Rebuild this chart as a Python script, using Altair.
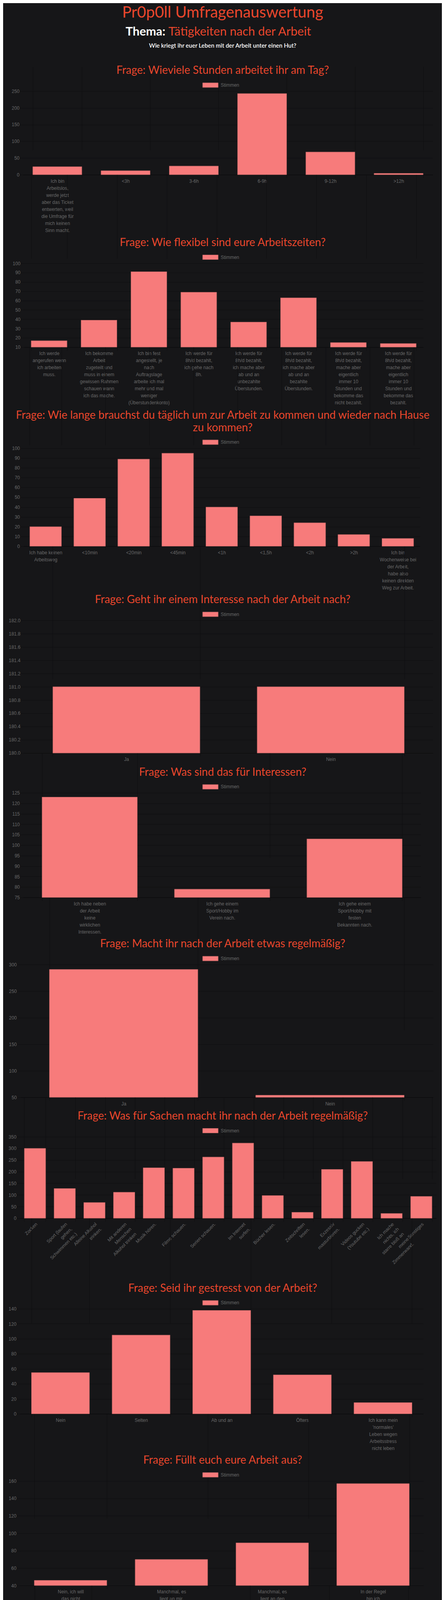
import altair as alt
import pandas as pd

# ---------------- texts ----------------
header_title = "Pr0p0ll Umfragenauswertung"
header_topic_key = "Thema:"
header_topic = "Tätigkeiten nach der Arbeit"
header_sub = "Wie kriegt ihr euer Leben mit der Arbeit unter einen Hut?"
series_name = "Stimmen"

titles = [
    "Frage: Wieviele Stunden arbeitet ihr am Tag?",
    "Frage: Wie flexibel sind eure Arbeitszeiten?",
    ["Frage: Wie lange brauchst du täglich um zur Arbeit zu kommen und wieder nach Hause", "zu kommen?"],
    "Frage: Geht ihr einem Interesse nach der Arbeit nach?",
    "Frage: Was sind das für Interessen?",
    "Frage: Macht ihr nach der Arbeit etwas regelmäßig?",
    "Frage: Was für Sachen macht ihr nach der Arbeit regelmäßig?",
    "Frage: Seid ihr gestresst von der Arbeit?",
    "Frage: Füllt euch eure Arbeit aus?",
    "Frage: Wie regelt ihr das mit Terminen unter der Woche?",
    "Frage: Leidet dein soziales Umfeld daran dass du arbeitest?",
    "Frage: Leidet dein Beziehungsleben unter der Arbeit?",
    "Frage: Wie hat dir diese Umfrage gefallen.",
]

# ---------------- categories (line breaks as in the picture) ----------------
cats_q1 = [
    "Ich bin\nArbeitslos,\nwerde jetzt\naber das Ticket\nentwerten, weil\ndie Umfrage für\nmich keinen\nSinn macht.",
    "<3h", "3-6h", "6-9h", "9-12h", ">12h",
]
cats_q2 = [
    "Ich werde\nangerufen wenn\nich arbeiten\nmuss.",
    "Ich bekomme\nArbeit\nzugeteilt und\nmuss in einem\ngewissen Rahmen\nschauen wann\nich das mache.",
    "Ich bin fest\nangestellt, je\nnach\nAuftragslage\narbeite ich mal\nmehr und mal\nweniger\n(Überstundenkonto)",
    "Ich werde für\n8h/d bezahlt,\nich gehe nach\n8h.",
    "Ich werde für\n8h/d bezahlt,\nich mache aber\nab und an\nunbezahlte\nÜberstunden.",
    "Ich werde für\n8h/d bezahlt,\nich mache aber\nab und an\nbezahlte\nÜberstunden.",
    "Ich werde für\n8h/d bezahlt,\nmache aber\neigentlich\nimmer 10\nStunden und\nbekomme das\nnicht bezahlt.",
    "Ich werde für\n8h/d bezahlt,\nmache aber\neigentlich\nimmer 10\nStunden und\nbekomme das\nbezahlt.",
]
cats_q3 = [
    "Ich habe keinen\nArbeitsweg", "<10min", "<20min", "<45min", "<1h", "<1,5h", "<2h", ">2h",
    "Ich bin\nWochenweise bei\nder Arbeit,\nhabe also\nkeinen direkten\nWeg zur Arbeit.",
]
cats_q4 = ["Ja", "Nein"]
cats_q5 = [
    "Ich habe neben\nder Arbeit\nkeine\nwirklichen\nInteressen.",
    "Ich gehe einem\nSport/Hobby im\nVerein nach.",
    "Ich gehe einem\nSport/Hobby mit\nfesten\nBekannten nach.",
]
cats_q6 = ["Ja", "Nein"]
cats_q7 = [
    "Zocken",
    "Sport (laufen\ngehen,\nSchwimmen etc.)",
    "Alleine Alkohol\ntrinken.",
    "Mit anderen\nMenschen\nAlkohol trinken",
    "Musik hören.",
    "Filme schauen.",
    "Serien schauen.",
    "Im Internet\nsurfen.",
    "Bücher lesen.",
    "Zeitschriften\nlesen.",
    "Exzessiv\nmasturbieren.",
    "Videos gucken\n(Youtube etc.)",
    "Ich mache\nnichts, ich\nstarre bloß an\nmeine\nZimmerwand.",
    "Sonstiges",
]
cats_q8 = ["Nein", "Selten", "Ab und an", "Öfters",
           "Ich kann mein\n'normales'\nLeben wegen\nArbeitsstress\nnicht leben"]
cats_q9 = [
    "Nein, ich will\ndas nicht\nmachen.",
    "Manchmal, es\nliegt an mir.",
    "Manchmal, es\nliegt an den\nanderen Leuten\ndie da rum\nlaufen.",
    "In der Regel\nbin ich\nzufrieden mit\nmeiner Arbeit.",
]
cats_q10 = [
    "Ich muss mir\nFrei nehmen,\nbekomme das\naber problemlos\nhin.",
    "Ich muss mir\nFrei nehmen,\nmuss aber\nhoffen dass ich\nauch Frei\nbekomme.",
    "Ich mache meine\nArbeit einfach\nspäter, da sagt\nkeiner was.",
    "Ich kann von\nder Arbeit aus\nhinfahren, muss\nes aber als\nPause\naufschreiben",
    "Ich kann von\nder Arbeit aus\nhinfahren, aber\nes stört keinen\nund ich bekomme\nes bezahlt.",
]
cats_q11 = [
    "Ja, mein\nFreundeskreis\nhat sich\nverkleinert,\naber das ist\nnicht weiter\nschlimm.",
    "Ja, mein\nFreundeskreis\nhat sich\nverkleinert,\nund ich\nvermisse meine\nalten Leute.",
    "Nein, Alles ist\nbeim alten\ngeblieben.",
    "Sonstiges",
    "Nein, durch die\nArbeit habe ich\nviele neue\nLeute\nkennengelernt\nund ich finde\ndas gut.",
    "Nicht wirklich,\naber ich habe\nzu meinem\nbedauern meinen\nFreundeskreis\n'ausgetauscht',\naber ich weine\nden alten\nFreundschaften\nab und an\nhinterher.",
    "Nicht wirklich,\naber ich habe\nzu meiner\nFreude meinen\nFreundeskreis\n'ausgetauscht',\nund ich weine\nden alten\nFreundschaften\nnicht\nhinterher.",
]
cats_q12 = [
    "Meine Beziehung\nleidet unter\nmeiner Arbeit\nund ich\nwünschte es\nwäre nicht so.",
    "Meine Beziehung\nleidet unter\nmeiner Arbeit,\naber ich bin ab\nund an auch mal\nFroh die Alte\nnicht zu sehen,\nArbeit ist für\nmich in der\nHinsicht ein\nFreiraum.",
    "Meine Beziehung\nleidet nicht\nunter meiner\nArbeit, weil\nsie froh ist\ndass ich nicht\nimmer zu gegen\nbin.",
    "Meine Beziehung\nleidet nicht\nunter meiner\nArbeit, weil\nmein Partner\nähnlich viel\narbeitet wie\nich und wir so\ngut miteinander\nauskommen.",
    "Sonstiges",
]
cats_q13 = [
    "Sehr gut",
    "ganz schön gut",
    "Ich hätte keine\nbesseren Fragen\nstellen können.",
    "ziemlich gut\ndurchdacht",
    "Eigentlich\nziemlich gut",
    "Ist schon\noberes\nMittelfeld",
    "ziemlich\nprofessionell,\nda steckt ein\nguter Geist\nhinter",
    "Die Fragen\nhaben mich\nberührt",
    "relativ gut",
    "da kann man\nschonmal\napplaudieren",
    "Ich fand sie\ngut, keine\nZeitverschwendung\nmMn.",
]

# ---------------- vote counts ----------------
votes_q1 = [24, 12, 26, 243, 68, 4]
votes_q2 = [17, 39, 91, 69, 37, 63, 15, 14]
votes_q3 = [20, 49, 89, 95, 40, 31, 24, 12, 8]
votes_q4 = [181, 181]
votes_q5 = [123, 79, 103]
votes_q6 = [291, 54]
votes_q7 = [300, 128, 68, 112, 217, 215, 263, 323, 98, 26, 210, 244, 21, 94]
votes_q8 = [55, 105, 138, 52, 15]
votes_q9 = [46, 70, 89, 157]
votes_q10 = [126, 55, 69, 41, 42]
votes_q11 = [66, 45, 126, 24, 62, 9, 16]
votes_q12 = [27, 17, 15, 73, 129]
votes_q13 = [9, 19, 9, 11, 45, 23, 12, 20, 37, 54, 41]

labels = [cats_q1, cats_q2, cats_q3, cats_q4, cats_q5, cats_q6, cats_q7,
          cats_q8, cats_q9, cats_q10, cats_q11, cats_q12, cats_q13]
values = [votes_q1, votes_q2, votes_q3, votes_q4, votes_q5, votes_q6, votes_q7,
          votes_q8, votes_q9, votes_q10, votes_q11, votes_q12, votes_q13]

# y axis ranges and tick steps (as printed on the axes)
y_domains = [(0, 250), (10, 100), (0, 100), (180, 182), (75, 125), (50, 300), (0, 350),
             (0, 140), (40, 160), (40, 130), (0, 140), (0, 140), (5, 55)]
y_steps = [50, 10, 10, 0.2, 5, 50, 50, 20, 20, 10, 20, 20, 5]
y_formats = ["d", "d", "d", ".1f", "d", "d", "d", "d", "d", "d", "d", "d", "d"]

# ---------------- layout (page pixels) ----------------
MARGIN = 8
HEADER_H = 160
plot_left = [58.5, 61, 59.5, 61, 59.25, 51.5, 50.6, 50.6, 50.7, 60, 55.5, 63.75, 57.35]
plot_width = [1050, 1023, 1016, 1048, 1018.5, 1058, 1066.8, 1033.75, 1034, 1014.5, 1024.6, 1032.5, 1059.2]
plot_top = [231, 672, 1146, 1587, 2029, 2469, 2910, 3351, 3792, 4233, 4674, 5115, 5556]
plot_bottom = [445, 887, 1397, 1927, 2297, 2809, 3119, 3620, 4060, 4484, 4842, 5283, 5774]
label_angles = [0, 0, 0, 0, 0, 0, 315, 0, 0, 0, 0, 0, 330]
PAGE_CENTER = 570

# ---------------- styles ----------------
BG = "#161618"
RED = "#e9462c"
BAR = "#f77b7b"
EDGE = "#a05656"
GRID = "#0f0f11"
AXIS_LINE = "#0b0b0c"
LABEL = "#686868"
TITLE_FONT = "Lato"
AXIS_FONT = "Liberation Sans"


def make_panel(i, prev_bottom):
    cats = labels[i]
    df = pd.DataFrame({
        "Antwort": cats,
        "Stimmen": values[i],
        "Serie": [series_name] * len(cats),
    })
    top_pad = plot_top[i] - prev_bottom
    plot_h = plot_bottom[i] - plot_top[i]
    left = plot_left[i] - MARGIN
    w = plot_width[i]
    lo, hi = y_domains[i]
    step = y_steps[i]
    n = int(round((hi - lo) / step))
    ticks = [round(lo + k * step, 2) for k in range(n + 1)]
    angle = label_angles[i]
    rotated = angle != 0

    x_axis = alt.Axis(
        title=None,
        labelExpr="split(datum.label, '\\n')",
        labelAngle=angle,
        labelAlign="right" if rotated else "center",
        labelBaseline="top",
        labelPadding=1 if rotated else 3,
        labelLimit=0,
        labelOverlap=False,
        labelLineHeight=18,
        tickBand="extent",
        tickSize=8,
        grid=True,
        domain=True,
    )
    y_axis = alt.Axis(
        title=None,
        values=ticks,
        format=y_formats[i],
        offset=-left,
        tickSize=8,
        labelPadding=2,
        domain=False,
        grid=True,
        labelOverlap=False,
    )
    legend = alt.Legend(
        title=None,
        orient="none",
        legendX=518 - MARGIN,
        legendY=top_pad - 36,
        direction="horizontal",
        symbolType="M-1,-0.3H1V0.3H-1Z",
        symbolSize=1600,
        symbolStrokeColor=EDGE,
        symbolStrokeWidth=1,
        symbolOpacity=1,
        labelOffset=6,
        padding=0,
    )
    title = alt.TitleParams(
        text=titles[i],
        color=RED,
        font=TITLE_FONT,
        fontSize=28,
        fontWeight="normal",
        anchor="middle",
        frame="group",
        baseline="top",
        offset=0,
        lineHeight=32,
        dy=top_pad - 38,
        dx=(PAGE_CENTER - MARGIN) - (left + w) / 2,
    )
    return alt.Chart(df).mark_bar(stroke=EDGE, strokeWidth=1).encode(
        x=alt.X("Antwort:N", sort=cats,
                scale=alt.Scale(range=[left, left + w], paddingInner=0.28, paddingOuter=0.14),
                axis=x_axis),
        y=alt.Y("Stimmen:Q",
                scale=alt.Scale(domain=[lo, hi], range=[top_pad + plot_h, top_pad], nice=False, zero=False),
                axis=y_axis),
        y2=alt.datum(lo),
        color=alt.Color("Serie:N", scale=alt.Scale(domain=[series_name], range=[BAR]), legend=legend),
        tooltip=["Stimmen:Q"],
    ).properties(width=left + w, height=top_pad + plot_h, title=title)


base = alt.Chart(pd.DataFrame({"k": [0]}))
header = alt.layer(
    base.mark_text(text=header_title, font=TITLE_FONT, fontSize=40, color=RED,
                   align="center", baseline="alphabetic").encode(x=alt.value(562), y=alt.value(34)),
    base.mark_text(text=header_topic_key, font=TITLE_FONT, fontSize=31, fontWeight="bold", color="#ffffff",
                   align="right", baseline="alphabetic").encode(x=alt.value(415), y=alt.value(80)),
    base.mark_text(text=header_topic, font=TITLE_FONT, fontSize=31, color=RED,
                   align="left", baseline="alphabetic").encode(x=alt.value(423), y=alt.value(80)),
    base.mark_text(text=header_sub, font=TITLE_FONT, fontSize=15, fontWeight=600, color="#ffffff",
                   align="center", baseline="alphabetic").encode(x=alt.value(562), y=alt.value(111)),
).properties(width=1124, height=HEADER_H)

panels = []
prev = MARGIN + HEADER_H
for i in range(len(titles)):
    panels.append(make_panel(i, prev))
    prev = plot_bottom[i]

chart = alt.vconcat(header, *panels, spacing=0, bounds="flush").resolve_scale(
    color="independent", x="independent", y="independent"
).resolve_legend(color="independent").properties(
    background=BG, padding=0
).configure_view(strokeWidth=0).configure_axis(
    labelFont=AXIS_FONT, labelFontSize=12, labelColor=LABEL,
    gridColor=GRID, gridWidth=1, tickColor=GRID, domainColor=AXIS_LINE,
).configure_legend(
    labelFont=AXIS_FONT, labelFontSize=12, labelColor=LABEL,
)

chart.save("out.html", embed_options={"renderer": "svg", "actions": False})
